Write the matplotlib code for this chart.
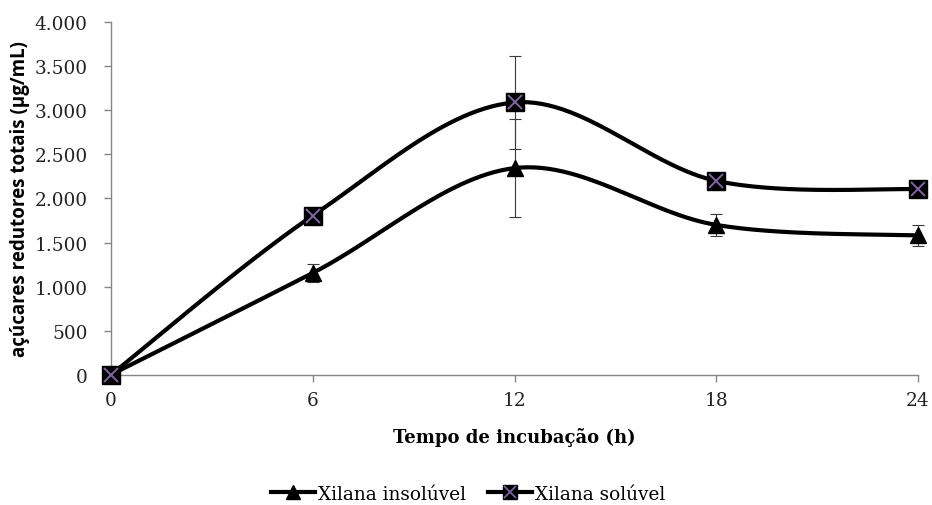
import numpy as np
import matplotlib
matplotlib.use("Agg")
import matplotlib.pyplot as plt
from matplotlib.lines import Line2D
from matplotlib.ticker import FuncFormatter

# Incubation times (h) and total reducing sugars (µg/mL)
tempo = [0, 6, 12, 18, 24]
insoluvel = [0, 1155, 2345, 1700, 1580]
insoluvel_err = [0, 100, 555, 125, 120]
soluvel = [0, 1805, 3090, 2200, 2105]
soluvel_err = [0, 0, 530, 0, 0]

series_names = ["Xilana insolúvel", "Xilana solúvel"]
x_ticks = [0, 6, 12, 18, 24]
y_ticks = [0, 500, 1000, 1500, 2000, 2500, 3000, 3500, 4000]


def smooth_curve(xs, ys, n=60):
    """Cardinal (Catmull-Rom) spline through the points, as cubic Bezier segments."""
    p = np.column_stack([xs, ys]).astype(float)
    pts = []
    m = len(p)
    for i in range(m - 1):
        p0 = p[i - 1] if i > 0 else p[i]
        p1 = p[i]
        p2 = p[i + 1]
        p3 = p[i + 2] if i + 2 < m else p[i + 1]
        c1 = p1 + (p2 - p0) / 6.0
        c2 = p2 - (p3 - p1) / 6.0
        t = np.linspace(0, 1, n)[:, None]
        seg = ((1 - t) ** 3) * p1 + 3 * ((1 - t) ** 2) * t * c1 + 3 * (1 - t) * t ** 2 * c2 + t ** 3 * p2
        pts.append(seg if i == 0 else seg[1:])
    out = np.vstack(pts)
    return out[:, 0], out[:, 1]


fig = plt.figure(figsize=(9.32, 5.06), dpi=100)
ax = fig.add_axes([0.1191, 0.2575, 0.8659, 0.6965])

axis_gray = "#868686"
purple = "#8064A2"
serif = "DejaVu Serif"

# error bars
ax.errorbar(tempo, insoluvel, yerr=insoluvel_err, fmt="none", ecolor="#3a3a3a",
            elinewidth=0.8, capsize=4.5, capthick=0.8, zorder=2, clip_on=False)
ax.errorbar(tempo, soluvel, yerr=soluvel_err, fmt="none", ecolor="#3a3a3a",
            elinewidth=0.8, capsize=4.5, capthick=0.8, zorder=2, clip_on=False)

# smoothed lines
xs, ys = smooth_curve(tempo, insoluvel)
ax.plot(xs, ys, color="black", lw=3, zorder=3, solid_capstyle="round", clip_on=False)
xs, ys = smooth_curve(tempo, soluvel)
ax.plot(xs, ys, color="black", lw=3, zorder=3, solid_capstyle="round", clip_on=False)

# markers
ax.plot(tempo, insoluvel, linestyle="none", marker="^", markersize=12,
        color="black", zorder=4, clip_on=False)
ax.plot(tempo, soluvel, linestyle="none", marker="s", markersize=12.5,
        color="black", zorder=4, clip_on=False)
ax.plot(tempo, soluvel, linestyle="none", marker="x", markersize=10.5,
        markeredgewidth=1.4, color=purple, zorder=5, clip_on=False)

ax.set_xlim(0, 24)
ax.set_ylim(0, 4000)
ax.set_xticks(x_ticks)
ax.set_yticks(y_ticks)
ax.yaxis.set_major_formatter(FuncFormatter(lambda v, _: f"{int(v):,}".replace(",", ".")))

for s in ["top", "right"]:
    ax.spines[s].set_visible(False)
for s in ["left", "bottom"]:
    ax.spines[s].set_color(axis_gray)
    ax.spines[s].set_linewidth(1.0)
ax.tick_params(axis="both", direction="out", length=5, width=1.0, color=axis_gray,
               labelsize=13.3, labelcolor="#222222")
ax.tick_params(axis="y", pad=12)
ax.tick_params(axis="x", pad=7)
for lab in ax.get_xticklabels() + ax.get_yticklabels():
    lab.set_family(serif)

ax.set_xlabel("Tempo de incubação (h)", fontsize=13, fontweight="bold",
              family=serif, labelpad=13)
ax.set_ylabel("açúcares redutores totais (µg/mL)", fontsize=13.5, fontweight="bold",
              family="Open Sans", labelpad=3)

# legend
h1 = Line2D([], [], color="black", lw=3, marker="^", markersize=10)
h2 = Line2D([], [], color="black", lw=3, marker="s", markersize=10)
h2x = Line2D([], [], color=purple, lw=0, marker="x", markersize=8, markeredgewidth=1.2)
leg = fig.legend([h1, (h2, h2x)], series_names, loc="center", bbox_to_anchor=(0.502, 0.022),
                 ncol=2, frameon=False, handlelength=2.4, handletextpad=0.15,
                 columnspacing=1.2, prop={"family": serif, "size": 13.3})

fig.savefig("out.png", dpi=100)
